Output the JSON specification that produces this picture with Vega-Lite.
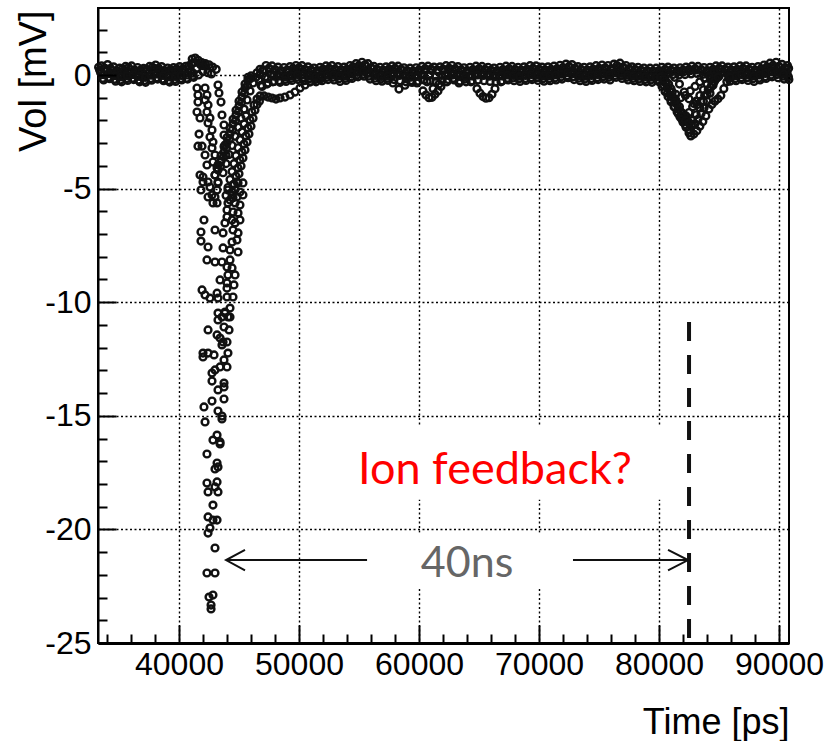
{
"$schema":"https://vega.github.io/schema/vega-lite/v6.json",
"width":691,"height":635,
"autosize":{"type":"none"},
"padding":{"left":98,"top":8,"right":38,"bottom":98},
"background":"white",
"config":{"view":{"stroke":"black","strokeWidth":2},"font":"Liberation Sans"},
"resolve":{"axis":{"x":"independent","y":"independent"}},
"datasets":{"pts":[
{"t":33300,"v":0.34},{"t":33800,"v":0.30},{"t":34300,"v":0.29},{"t":34800,"v":0.20},{"t":35300,"v":0.27},{"t":35800,"v":0.33},{"t":36300,"v":0.22},{"t":36800,"v":0.22},{"t":37300,"v":0.25},{"t":37800,"v":0.34},{"t":38300,"v":0.30},{"t":38800,"v":0.20},{"t":39300,"v":0.24},{"t":39800,"v":0.27},{"t":40300,"v":0.26},{"t":40800,"v":0.40},{"t":41300,"v":0.55},
{"t":33470,"v":0.10},{"t":33970,"v":0.16},{"t":34470,"v":0.05},{"t":34970,"v":0.03},{"t":35470,"v":0.05},{"t":35970,"v":0.12},{"t":36470,"v":0.02},{"t":36970,"v":0.02},{"t":37470,"v":0.08},{"t":37970,"v":0.10},{"t":38470,"v":0.10},{"t":38970,"v":0.00},{"t":39470,"v":0.05},{"t":39970,"v":0.04},{"t":40470,"v":0.10},{"t":40970,"v":0.15},{"t":41470,"v":0.30},
{"t":33630,"v":-0.15},{"t":34130,"v":-0.10},{"t":34630,"v":-0.19},{"t":35130,"v":-0.22},{"t":35630,"v":-0.16},{"t":36130,"v":-0.14},{"t":36630,"v":-0.22},{"t":37130,"v":-0.24},{"t":37630,"v":-0.16},{"t":38130,"v":-0.12},{"t":38630,"v":-0.18},{"t":39130,"v":-0.24},{"t":39630,"v":-0.20},{"t":40130,"v":-0.16},{"t":40630,"v":-0.14},{"t":41130,"v":-0.05},{"t":41630,"v":0.00},
{"t":33550,"v":0.40},{"t":34050,"v":0.46},{"t":34550,"v":0.36},{"t":35050,"v":0.30},{"t":35550,"v":0.38},{"t":36050,"v":0.40},{"t":36550,"v":0.33},{"t":37050,"v":0.29},{"t":37550,"v":0.38},{"t":38050,"v":0.44},{"t":38550,"v":0.37},{"t":39050,"v":0.31},{"t":39550,"v":0.33},{"t":40050,"v":0.37},{"t":40550,"v":0.38},{"t":41050,"v":0.50},
{"t":33720,"v":-0.22},{"t":34220,"v":-0.16},{"t":34720,"v":-0.27},{"t":35220,"v":-0.30},{"t":35720,"v":-0.24},{"t":36220,"v":-0.20},{"t":36720,"v":-0.30},{"t":37220,"v":-0.32},{"t":37720,"v":-0.23},{"t":38220,"v":-0.18},{"t":38720,"v":-0.25},{"t":39220,"v":-0.31},{"t":39720,"v":-0.28},{"t":40220,"v":-0.22},{"t":40720,"v":-0.18},{"t":41220,"v":-0.10},
{"t":33385,"v":0.22},{"t":33885,"v":0.27},{"t":34385,"v":0.20},{"t":34885,"v":0.13},{"t":35385,"v":0.17},{"t":35885,"v":0.23},{"t":36385,"v":0.16},{"t":36885,"v":0.11},{"t":37385,"v":0.20},{"t":37885,"v":0.25},{"t":38385,"v":0.19},{"t":38885,"v":0.13},{"t":39385,"v":0.15},{"t":39885,"v":0.17},{"t":40385,"v":0.21},{"t":40885,"v":0.30},
{"t":33680,"v":0.02},{"t":34180,"v":0.06},{"t":34680,"v":-0.03},{"t":35180,"v":-0.08},{"t":35680,"v":-0.03},{"t":36180,"v":0.02},{"t":36680,"v":-0.06},{"t":37180,"v":-0.10},{"t":37680,"v":-0.01},{"t":38180,"v":0.04},{"t":38680,"v":-0.02},{"t":39180,"v":-0.08},{"t":39680,"v":-0.06},{"t":40180,"v":-0.02},{"t":40680,"v":0.00},{"t":41180,"v":0.08},
{"t":41100,"v":0.70},{"t":41350,"v":0.75},{"t":41600,"v":0.65},{"t":41900,"v":0.55},{"t":42100,"v":0.40},{"t":41800,"v":0.45},{"t":42200,"v":0.50},{"t":42500,"v":0.45},{"t":42800,"v":0.35},{"t":43100,"v":0.25},{"t":42000,"v":0.15},{"t":42400,"v":0.10},{"t":42700,"v":0.05},
{"t":41500,"v":-0.57},{"t":41580,"v":-0.88},{"t":41580,"v":-1.19},{"t":41500,"v":-1.63},{"t":41750,"v":-1.89},{"t":41670,"v":-2.60},{"t":41580,"v":-3.13},{"t":41920,"v":-3.13},{"t":42170,"v":-3.52},{"t":42330,"v":-3.96},{"t":42000,"v":-4.49},{"t":42420,"v":-4.71},{"t":41750,"v":-4.40},
{"t":42170,"v":-0.57},{"t":42330,"v":-0.88},{"t":42170,"v":-1.10},{"t":42420,"v":-1.32},{"t":42330,"v":-1.63},{"t":42580,"v":-1.89},{"t":42420,"v":-2.11},{"t":42750,"v":-2.42},{"t":42580,"v":-2.73},{"t":42830,"v":-2.95},{"t":42750,"v":-3.21},{"t":43000,"v":-3.52},{"t":42830,"v":-3.83},{"t":43170,"v":-4.09},{"t":43000,"v":-4.40},{"t":43250,"v":-4.71},
{"t":43250,"v":-0.44},{"t":43330,"v":-0.79},{"t":43500,"v":-1.19},{"t":43580,"v":-1.76},{"t":43750,"v":-2.20},{"t":43750,"v":-2.64},{"t":43830,"v":-3.08},{"t":43920,"v":-3.52},
{"t":43250,"v":-4.18},{"t":43500,"v":-3.79},{"t":43750,"v":-3.39},{"t":44000,"v":-2.99},{"t":44250,"v":-2.60},{"t":44500,"v":-2.16},{"t":44750,"v":-1.76},{"t":45000,"v":-1.36},{"t":45250,"v":-0.97},{"t":45500,"v":-0.57},{"t":45750,"v":-0.22},{"t":46000,"v":-0.04},
{"t":43670,"v":-4.3},{"t":43920,"v":-3.9},{"t":44170,"v":-3.5},{"t":44420,"v":-3.1},{"t":44670,"v":-2.7},{"t":44920,"v":-2.3},{"t":45170,"v":-1.9},{"t":45420,"v":-1.5},{"t":45670,"v":-1.1},{"t":45920,"v":-0.7},{"t":46170,"v":-0.35},{"t":46420,"v":-0.1},{"t":46750,"v":0.02},
{"t":43460,"v":-4.0},{"t":43710,"v":-3.6},{"t":43960,"v":-3.2},{"t":44210,"v":-2.8},{"t":44460,"v":-2.4},{"t":44710,"v":-2.0},{"t":44960,"v":-1.6},{"t":45210,"v":-1.2},{"t":45460,"v":-0.8},{"t":45710,"v":-0.45},{"t":45960,"v":-0.15},
{"t":43000,"v":-4.4},{"t":43250,"v":-3.95},{"t":43500,"v":-3.55},{"t":43750,"v":-3.15},{"t":44000,"v":-2.75},{"t":44250,"v":-2.35},{"t":44500,"v":-1.95},{"t":44750,"v":-1.55},{"t":45000,"v":-1.15},{"t":45250,"v":-0.75},{"t":45500,"v":-0.4},{"t":45750,"v":-0.1},
{"t":44250,"v":-5.50},{"t":44420,"v":-5.15},{"t":44580,"v":-4.80},{"t":44750,"v":-4.45},{"t":44920,"v":-4.09},{"t":45080,"v":-3.74},{"t":45250,"v":-3.39},{"t":45420,"v":-3.04},{"t":45580,"v":-2.68},{"t":45750,"v":-2.33},{"t":45920,"v":-1.98},{"t":46080,"v":-1.63},{"t":46250,"v":-1.32},{"t":46500,"v":-1.06},{"t":46750,"v":-0.92},{"t":47080,"v":-0.92},{"t":47420,"v":-0.97},{"t":47750,"v":-1.01},{"t":48080,"v":-1.06},{"t":48420,"v":-1.01},{"t":48830,"v":-0.97},{"t":49250,"v":-0.88},{"t":49670,"v":-0.75},{"t":50080,"v":-0.57},{"t":50500,"v":-0.44},{"t":50920,"v":-0.31},{"t":51420,"v":-0.18},{"t":51920,"v":-0.09},
{"t":43920,"v":-5.3},{"t":44080,"v":-4.95},{"t":44250,"v":-4.6},{"t":44420,"v":-4.25},{"t":44580,"v":-3.9},{"t":44750,"v":-3.55},{"t":44920,"v":-3.2},{"t":45080,"v":-2.85},{"t":45250,"v":-2.5},{"t":45420,"v":-2.15},{"t":45580,"v":-1.8},
{"t":44500,"v":-5.4},{"t":44670,"v":-5.05},{"t":44830,"v":-4.7},{"t":45000,"v":-4.35},{"t":45170,"v":-4.0},{"t":45330,"v":-3.65},{"t":45500,"v":-3.3},{"t":45670,"v":-2.95},{"t":45830,"v":-2.6},{"t":46000,"v":-2.25},{"t":46170,"v":-1.9},{"t":46330,"v":-1.55},{"t":46500,"v":-1.3},{"t":46700,"v":-1.15},
{"t":42000,"v":-4.71},{"t":42580,"v":-4.93},{"t":41830,"v":-5.06},{"t":43250,"v":-4.75},{"t":43170,"v":-5.06},{"t":42750,"v":-5.28},{"t":43000,"v":-5.37},{"t":42420,"v":-5.37},{"t":42830,"v":-5.63},{"t":43170,"v":-5.63},{"t":44080,"v":-5.06},{"t":44500,"v":-4.84},{"t":44920,"v":-4.75},{"t":45330,"v":-4.75},{"t":45080,"v":-5.15},{"t":44420,"v":-5.28},{"t":44830,"v":-5.37},{"t":45330,"v":-5.28},{"t":44080,"v":-5.63},{"t":44670,"v":-5.63},{"t":45080,"v":-5.72},{"t":44000,"v":-5.94},{"t":44500,"v":-6.03},{"t":44920,"v":-6.07},{"t":42080,"v":-6.38},{"t":44000,"v":-6.25},{"t":44420,"v":-6.38},{"t":43830,"v":-6.51},{"t":44670,"v":-6.51},{"t":45080,"v":-6.38},{"t":43000,"v":-6.82},{"t":43670,"v":-6.95},{"t":44500,"v":-6.82},{"t":44920,"v":-6.95},{"t":41830,"v":-6.91},{"t":41830,"v":-7.31},{"t":44420,"v":-7.35},{"t":44830,"v":-7.26},{"t":42420,"v":-7.57},{"t":43670,"v":-7.61},{"t":44250,"v":-7.70},{"t":44920,"v":-7.79},{"t":42330,"v":-8.14},{"t":43000,"v":-8.23},{"t":43580,"v":-8.23},{"t":44250,"v":-8.14},{"t":44000,"v":-8.45},{"t":44420,"v":-8.49},{"t":44080,"v":-8.80},{"t":44670,"v":-8.80},{"t":43420,"v":-9.02},{"t":44000,"v":-9.15},{"t":44580,"v":-9.24},{"t":44000,"v":-9.38},{"t":41920,"v":-9.46},{"t":42170,"v":-9.68},{"t":42580,"v":-9.82},{"t":43170,"v":-9.60},{"t":43250,"v":-9.82},{"t":44000,"v":-9.77},{"t":44500,"v":-9.77},{"t":44250,"v":-10.26},{"t":43830,"v":-10.48},{"t":43580,"v":-10.65},{"t":44080,"v":-10.65},
{"t":43250,"v":-10.48},{"t":43830,"v":-10.43},{"t":44250,"v":-10.65},{"t":43250,"v":-10.78},{"t":42420,"v":-11.22},{"t":43750,"v":-11.09},{"t":44170,"v":-11.22},{"t":43170,"v":-11.44},{"t":43420,"v":-11.58},{"t":43670,"v":-11.75},{"t":44000,"v":-11.75},{"t":43580,"v":-11.88},{"t":42000,"v":-12.24},{"t":42420,"v":-12.24},{"t":42920,"v":-12.32},{"t":42000,"v":-12.41},{"t":44080,"v":-12.24},{"t":43750,"v":-12.54},{"t":43420,"v":-12.85},{"t":44000,"v":-12.85},{"t":43000,"v":-12.98},{"t":42750,"v":-13.12},{"t":42750,"v":-13.47},{"t":43750,"v":-13.56},{"t":43750,"v":-13.73},{"t":43250,"v":-13.86},{"t":42750,"v":-14.35},{"t":43750,"v":-14.26},{"t":42080,"v":-14.61},{"t":43250,"v":-14.79},{"t":43580,"v":-15.01},{"t":43580,"v":-15.14},{"t":42170,"v":-15.27},{"t":43170,"v":-15.85},{"t":42830,"v":-16.07},{"t":43420,"v":-16.15},{"t":43420,"v":-16.24},{"t":42330,"v":-16.68},
{"t":43170,"v":-17.08},{"t":43250,"v":-17.25},{"t":43000,"v":-17.34},{"t":42330,"v":-17.96},{"t":43170,"v":-17.91},{"t":43000,"v":-18.13},{"t":42420,"v":-18.35},{"t":43250,"v":-18.35},{"t":42830,"v":-18.93},{"t":42420,"v":-19.45},{"t":42830,"v":-19.59},{"t":43170,"v":-19.59},{"t":42580,"v":-19.94},{"t":42420,"v":-20.16},{"t":43000,"v":-20.82},{"t":42330,"v":-21.92},{"t":43000,"v":-21.92},{"t":42500,"v":-22.98},{"t":42830,"v":-22.89},{"t":42670,"v":-23.33},{"t":42670,"v":-23.50},
{"t":46500,"v":0.10},{"t":47000,"v":0.22},{"t":47500,"v":0.30},{"t":48000,"v":0.24},{"t":48500,"v":0.20},{"t":49000,"v":0.22},{"t":49500,"v":0.29},{"t":50000,"v":0.32},{"t":50500,"v":0.25},{"t":51000,"v":0.23},{"t":51500,"v":0.20},{"t":52000,"v":0.26},{"t":52500,"v":0.30},{"t":53000,"v":0.27},{"t":53500,"v":0.23},{"t":54000,"v":0.26},{"t":54500,"v":0.36},{"t":55000,"v":0.42},{"t":55500,"v":0.45},{"t":56000,"v":0.32},{"t":56500,"v":0.25},{"t":57000,"v":0.22},{"t":57500,"v":0.27},{"t":58000,"v":0.30},{"t":58500,"v":0.25},{"t":59000,"v":0.20},{"t":59500,"v":0.18},{"t":60000,"v":0.23},{"t":60500,"v":0.28},{"t":61000,"v":0.26},{"t":61500,"v":0.22},{"t":62000,"v":0.26},{"t":62500,"v":0.30},{"t":63000,"v":0.28},{"t":63500,"v":0.23},{"t":64000,"v":0.20},{"t":64500,"v":0.24},{"t":65000,"v":0.28},{"t":65500,"v":0.25},{"t":66000,"v":0.22},{"t":66500,"v":0.20},{"t":67000,"v":0.24},{"t":67500,"v":0.28},{"t":68000,"v":0.25},{"t":68500,"v":0.22},{"t":69000,"v":0.26},{"t":69500,"v":0.30},{"t":70000,"v":0.26},{"t":70500,"v":0.23},{"t":71000,"v":0.25},{"t":71500,"v":0.28},{"t":72000,"v":0.33},{"t":72500,"v":0.38},{"t":73000,"v":0.30},{"t":73500,"v":0.25},{"t":74000,"v":0.22},{"t":74500,"v":0.26},{"t":75000,"v":0.30},{"t":75500,"v":0.32},{"t":76000,"v":0.28},{"t":76500,"v":0.42},{"t":77000,"v":0.35},{"t":77500,"v":0.28},{"t":78000,"v":0.25},{"t":78500,"v":0.22},{"t":79000,"v":0.20},{"t":79500,"v":0.18},{"t":80000,"v":0.20},{"t":80500,"v":0.25},{"t":81000,"v":0.22},{"t":81500,"v":0.20},{"t":82000,"v":0.22},{"t":82500,"v":0.25},{"t":83000,"v":0.28},{"t":83500,"v":0.24},{"t":84000,"v":0.20},{"t":84500,"v":0.25},{"t":85000,"v":0.30},{"t":85500,"v":0.26},{"t":86000,"v":0.23},{"t":86500,"v":0.25},{"t":87000,"v":0.30},{"t":87500,"v":0.26},{"t":88000,"v":0.22},{"t":88500,"v":0.28},{"t":89000,"v":0.36},{"t":89500,"v":0.43},{"t":90000,"v":0.38},{"t":90500,"v":0.32},{"t":90800,"v":0.30},
{"t":46670,"v":-0.20},{"t":47170,"v":-0.10},{"t":47670,"v":0.05},{"t":48170,"v":0.03},{"t":48670,"v":-0.02},{"t":49170,"v":0.00},{"t":49670,"v":0.08},{"t":50170,"v":0.12},{"t":50670,"v":0.05},{"t":51170,"v":0.02},{"t":51670,"v":-0.02},{"t":52170,"v":0.05},{"t":52670,"v":0.10},{"t":53170,"v":0.07},{"t":53670,"v":0.02},{"t":54170,"v":0.07},{"t":54670,"v":0.18},{"t":55170,"v":0.22},{"t":55670,"v":0.22},{"t":56170,"v":0.10},{"t":56670,"v":0.04},{"t":57170,"v":0.02},{"t":57670,"v":0.07},{"t":58170,"v":0.08},{"t":58670,"v":0.03},{"t":59170,"v":-0.02},{"t":59670,"v":-0.03},{"t":60170,"v":0.02},{"t":60670,"v":-0.30},{"t":61170,"v":-0.60},{"t":61670,"v":-0.40},{"t":62170,"v":0.02},{"t":62670,"v":0.10},{"t":63170,"v":0.07},{"t":63670,"v":0.02},{"t":64170,"v":-0.02},{"t":64670,"v":0.04},{"t":65170,"v":0.08},{"t":65670,"v":0.04},{"t":66170,"v":0.01},{"t":66670,"v":-0.01},{"t":67170,"v":0.04},{"t":67670,"v":0.08},{"t":68170,"v":0.05},{"t":68670,"v":0.01},{"t":69170,"v":0.06},{"t":69670,"v":0.10},{"t":70170,"v":0.05},{"t":70670,"v":0.03},{"t":71170,"v":0.05},{"t":71670,"v":0.09},{"t":72170,"v":0.13},{"t":72670,"v":0.17},{"t":73170,"v":0.08},{"t":73670,"v":0.04},{"t":74170,"v":0.02},{"t":74670,"v":0.07},{"t":75170,"v":0.10},{"t":75670,"v":0.11},{"t":76170,"v":0.10},{"t":76670,"v":0.18},{"t":77170,"v":0.12},{"t":77670,"v":0.06},{"t":78170,"v":0.04},{"t":78670,"v":0.01},{"t":79170,"v":-0.01},{"t":79670,"v":-0.02},{"t":80170,"v":0.00},{"t":80670,"v":0.04},{"t":81170,"v":0.02},{"t":81670,"v":0.00},{"t":82170,"v":0.02},{"t":82670,"v":0.05},{"t":83170,"v":0.07},{"t":83670,"v":0.03},{"t":84170,"v":0.00},{"t":84670,"v":0.05},{"t":85170,"v":0.10},{"t":85670,"v":0.05},{"t":86170,"v":0.03},{"t":86670,"v":0.06},{"t":87170,"v":0.10},{"t":87670,"v":0.05},{"t":88170,"v":0.02},{"t":88670,"v":0.09},{"t":89170,"v":0.16},{"t":89670,"v":0.21},{"t":90170,"v":0.16},{"t":90670,"v":0.10},
{"t":46830,"v":-0.45},{"t":47330,"v":-0.40},{"t":47830,"v":-0.30},{"t":48330,"v":-0.25},{"t":48830,"v":-0.20},{"t":49330,"v":-0.15},{"t":49830,"v":-0.10},{"t":50330,"v":-0.12},{"t":50830,"v":-0.17},{"t":51330,"v":-0.20},{"t":51830,"v":-0.16},{"t":52330,"v":-0.10},{"t":52830,"v":-0.10},{"t":53330,"v":-0.16},{"t":53830,"v":-0.15},{"t":54330,"v":-0.08},{"t":54830,"v":0.00},{"t":55330,"v":0.03},{"t":55830,"v":-0.05},{"t":56330,"v":-0.14},{"t":56830,"v":-0.18},{"t":57330,"v":-0.15},{"t":57830,"v":-0.35},{"t":58330,"v":-0.62},{"t":58830,"v":-0.45},{"t":59330,"v":-0.25},{"t":59830,"v":-0.35},{"t":60330,"v":-0.70},{"t":60830,"v":-1.00},{"t":61330,"v":-0.85},{"t":61830,"v":-0.50},{"t":62330,"v":-0.30},{"t":62830,"v":-0.15},{"t":63330,"v":-0.35},{"t":63830,"v":-0.18},{"t":64330,"v":-0.30},{"t":64830,"v":-0.60},{"t":65330,"v":-0.95},{"t":65830,"v":-1.00},{"t":66330,"v":-0.60},{"t":66830,"v":-0.30},{"t":67330,"v":-0.15},{"t":67830,"v":-0.13},{"t":68330,"v":-0.17},{"t":68830,"v":-0.16},{"t":69330,"v":-0.12},{"t":69830,"v":-0.12},{"t":70330,"v":-0.16},{"t":70830,"v":-0.16},{"t":71330,"v":-0.13},{"t":71830,"v":-0.09},{"t":72330,"v":-0.04},{"t":72830,"v":-0.08},{"t":73330,"v":-0.14},{"t":73830,"v":-0.18},{"t":74330,"v":-0.16},{"t":74830,"v":-0.12},{"t":75330,"v":-0.08},{"t":75830,"v":-0.10},{"t":76330,"v":-0.02},{"t":76830,"v":-0.03},{"t":77330,"v":-0.10},{"t":77830,"v":-0.15},{"t":78330,"v":-0.18},{"t":78830,"v":-0.20},{"t":79330,"v":-0.22},{"t":79830,"v":-0.22},{"t":85830,"v":-0.15},{"t":86330,"v":-0.16},{"t":86830,"v":-0.12},{"t":87330,"v":-0.12},{"t":87830,"v":-0.16},{"t":88330,"v":-0.14},{"t":88830,"v":-0.08},{"t":89330,"v":0.00},{"t":89830,"v":0.02},{"t":90330,"v":-0.05},{"t":90780,"v":-0.08},
{"t":46750,"v":0.25},{"t":47250,"v":0.42},{"t":47750,"v":0.40},{"t":48250,"v":0.35},{"t":48750,"v":0.33},{"t":49250,"v":0.37},{"t":49750,"v":0.42},{"t":50250,"v":0.41},{"t":50750,"v":0.36},{"t":51250,"v":0.31},{"t":51750,"v":0.34},{"t":52250,"v":0.40},{"t":52750,"v":0.41},{"t":53250,"v":0.37},{"t":53750,"v":0.35},{"t":54250,"v":0.42},{"t":54750,"v":0.50},{"t":55250,"v":0.56},{"t":55750,"v":0.50},{"t":56250,"v":0.38},{"t":56750,"v":0.34},{"t":57250,"v":0.36},{"t":57750,"v":0.40},{"t":58250,"v":0.39},{"t":58750,"v":0.32},{"t":59250,"v":0.30},{"t":59750,"v":0.32},{"t":60250,"v":0.38},{"t":60750,"v":0.39},{"t":61250,"v":0.35},{"t":61750,"v":0.36},{"t":62250,"v":0.41},{"t":62750,"v":0.42},{"t":63250,"v":0.37},{"t":63750,"v":0.32},{"t":64250,"v":0.34},{"t":64750,"v":0.39},{"t":65250,"v":0.38},{"t":65750,"v":0.34},{"t":66250,"v":0.31},{"t":66750,"v":0.34},{"t":67250,"v":0.39},{"t":67750,"v":0.38},{"t":68250,"v":0.34},{"t":68750,"v":0.36},{"t":69250,"v":0.41},{"t":69750,"v":0.40},{"t":70250,"v":0.35},{"t":70750,"v":0.36},{"t":71250,"v":0.39},{"t":71750,"v":0.43},{"t":72250,"v":0.48},{"t":72750,"v":0.46},{"t":73250,"v":0.37},{"t":73750,"v":0.34},{"t":74250,"v":0.36},{"t":74750,"v":0.41},{"t":75250,"v":0.44},{"t":75750,"v":0.42},{"t":76250,"v":0.48},{"t":76750,"v":0.52},{"t":77250,"v":0.42},{"t":77750,"v":0.36},{"t":78250,"v":0.34},{"t":78750,"v":0.31},{"t":79250,"v":0.30},{"t":79750,"v":0.30},{"t":80250,"v":0.34},{"t":80750,"v":0.35},{"t":81250,"v":0.31},{"t":81750,"v":0.32},{"t":82250,"v":0.35},{"t":82750,"v":0.39},{"t":83250,"v":0.38},{"t":83750,"v":0.33},{"t":84250,"v":0.34},{"t":84750,"v":0.40},{"t":85250,"v":0.40},{"t":85750,"v":0.35},{"t":86250,"v":0.36},{"t":86750,"v":0.40},{"t":87250,"v":0.40},{"t":87750,"v":0.34},{"t":88250,"v":0.37},{"t":88750,"v":0.44},{"t":89250,"v":0.52},{"t":89750,"v":0.56},{"t":90250,"v":0.47},{"t":90700,"v":0.42},
{"t":46920,"v":-0.50},{"t":47420,"v":-0.35},{"t":47920,"v":-0.28},{"t":48420,"v":-0.32},{"t":48920,"v":-0.28},{"t":49420,"v":-0.24},{"t":49920,"v":-0.20},{"t":50420,"v":-0.25},{"t":50920,"v":-0.28},{"t":51420,"v":-0.30},{"t":51920,"v":-0.25},{"t":52420,"v":-0.20},{"t":52920,"v":-0.22},{"t":53420,"v":-0.28},{"t":53920,"v":-0.24},{"t":54420,"v":-0.15},{"t":54920,"v":-0.08},{"t":55420,"v":-0.05},{"t":55920,"v":-0.18},{"t":56420,"v":-0.25},{"t":56920,"v":-0.27},{"t":57420,"v":-0.24},{"t":57920,"v":-0.20},{"t":58420,"v":-0.25},{"t":58920,"v":-0.30},{"t":59420,"v":-0.33},{"t":59920,"v":-0.27},{"t":60420,"v":-0.22},{"t":60920,"v":-0.25},{"t":61420,"v":-0.28},{"t":61920,"v":-0.24},{"t":62420,"v":-0.20},{"t":62920,"v":-0.22},{"t":63420,"v":-0.27},{"t":63920,"v":-0.30},{"t":64420,"v":-0.26},{"t":64920,"v":-0.22},{"t":65420,"v":-0.25},{"t":65920,"v":-0.28},{"t":66420,"v":-0.30},{"t":66920,"v":-0.26},{"t":67420,"v":-0.22},{"t":67920,"v":-0.25},{"t":68420,"v":-0.28},{"t":68920,"v":-0.24},{"t":69420,"v":-0.20},{"t":69920,"v":-0.24},{"t":70420,"v":-0.27},{"t":70920,"v":-0.25},{"t":71420,"v":-0.22},{"t":71920,"v":-0.18},{"t":72420,"v":-0.12},{"t":72920,"v":-0.20},{"t":73420,"v":-0.25},{"t":73920,"v":-0.28},{"t":74420,"v":-0.24},{"t":74920,"v":-0.20},{"t":75420,"v":-0.18},{"t":75920,"v":-0.22},{"t":76420,"v":-0.10},{"t":76920,"v":-0.15},{"t":77420,"v":-0.22},{"t":77920,"v":-0.25},{"t":78420,"v":-0.28},{"t":78920,"v":-0.30},{"t":79420,"v":-0.32},{"t":85920,"v":-0.27},{"t":86420,"v":-0.25},{"t":86920,"v":-0.20},{"t":87420,"v":-0.24},{"t":87920,"v":-0.28},{"t":88420,"v":-0.22},{"t":88920,"v":-0.15},{"t":89420,"v":-0.08},{"t":89920,"v":-0.12},{"t":90420,"v":-0.18},{"t":90820,"v":-0.20},
{"t":47085,"v":0.22},{"t":47585,"v":0.25},{"t":48085,"v":0.18},{"t":48585,"v":0.15},{"t":49085,"v":0.17},{"t":49585,"v":0.22},{"t":50085,"v":0.25},{"t":50585,"v":0.20},{"t":51085,"v":0.16},{"t":51585,"v":0.13},{"t":52085,"v":0.20},{"t":52585,"v":0.24},{"t":53085,"v":0.21},{"t":53585,"v":0.18},{"t":54085,"v":0.20},{"t":54585,"v":0.30},{"t":55085,"v":0.36},{"t":55585,"v":0.38},{"t":56085,"v":0.27},{"t":56585,"v":0.19},{"t":57085,"v":0.16},{"t":57585,"v":0.21},{"t":58085,"v":0.23},{"t":58585,"v":0.19},{"t":59085,"v":0.14},{"t":59585,"v":0.12},{"t":60085,"v":0.18},{"t":60585,"v":0.22},{"t":61085,"v":0.19},{"t":61585,"v":0.16},{"t":62085,"v":0.21},{"t":62585,"v":0.24},{"t":63085,"v":0.21},{"t":63585,"v":0.17},{"t":64085,"v":0.14},{"t":64585,"v":0.19},{"t":65085,"v":0.22},{"t":65585,"v":0.19},{"t":66085,"v":0.15},{"t":66585,"v":0.14},{"t":67085,"v":0.19},{"t":67585,"v":0.22},{"t":68085,"v":0.18},{"t":68585,"v":0.16},{"t":69085,"v":0.21},{"t":69585,"v":0.24},{"t":70085,"v":0.19},{"t":70585,"v":0.17},{"t":71085,"v":0.20},{"t":71585,"v":0.22},{"t":72085,"v":0.27},{"t":72585,"v":0.32},{"t":73085,"v":0.23},{"t":73585,"v":0.19},{"t":74085,"v":0.16},{"t":74585,"v":0.21},{"t":75085,"v":0.24},{"t":75585,"v":0.26},{"t":76085,"v":0.23},{"t":76585,"v":0.34},{"t":77085,"v":0.28},{"t":77585,"v":0.22},{"t":78085,"v":0.19},{"t":78585,"v":0.16},{"t":79085,"v":0.14},{"t":79585,"v":0.12},{"t":80085,"v":0.14},{"t":80585,"v":0.19},{"t":81085,"v":0.16},{"t":81585,"v":0.14},{"t":82085,"v":0.16},{"t":82585,"v":0.19},{"t":83085,"v":0.22},{"t":83585,"v":0.18},{"t":84085,"v":0.14},{"t":84585,"v":0.19},{"t":85085,"v":0.24},{"t":85585,"v":0.20},{"t":86085,"v":0.17},{"t":86585,"v":0.19},{"t":87085,"v":0.24},{"t":87585,"v":0.20},{"t":88085,"v":0.16},{"t":88585,"v":0.22},{"t":89085,"v":0.29},{"t":89585,"v":0.36},{"t":90085,"v":0.32},{"t":90585,"v":0.26},
{"t":47380,"v":-0.15},{"t":47880,"v":-0.05},{"t":48380,"v":-0.04},{"t":48880,"v":-0.08},{"t":49380,"v":-0.04},{"t":49880,"v":0.02},{"t":50380,"v":0.00},{"t":50880,"v":-0.05},{"t":51380,"v":-0.08},{"t":51880,"v":-0.04},{"t":52380,"v":0.01},{"t":52880,"v":0.02},{"t":53380,"v":-0.03},{"t":53880,"v":-0.04},{"t":54380,"v":0.04},{"t":54880,"v":0.12},{"t":55380,"v":0.16},{"t":55880,"v":0.08},{"t":56380,"v":-0.02},{"t":56880,"v":-0.06},{"t":57380,"v":-0.04},{"t":57880,"v":0.01},{"t":58380,"v":-0.02},{"t":58880,"v":-0.07},{"t":59380,"v":-0.09},{"t":59880,"v":-0.05},{"t":60380,"v":0.00},{"t":60880,"v":-0.02},{"t":61380,"v":-0.05},{"t":61880,"v":-0.02},{"t":62380,"v":0.02},{"t":62880,"v":0.01},{"t":63380,"v":-0.04},{"t":63880,"v":-0.07},{"t":64380,"v":-0.04},{"t":64880,"v":0.00},{"t":65380,"v":-0.02},{"t":65880,"v":-0.05},{"t":66380,"v":-0.07},{"t":66880,"v":-0.04},{"t":67380,"v":0.00},{"t":67880,"v":-0.02},{"t":68380,"v":-0.05},{"t":68880,"v":-0.02},{"t":69380,"v":0.02},{"t":69880,"v":-0.01},{"t":70380,"v":-0.04},{"t":70880,"v":-0.03},{"t":71380,"v":0.00},{"t":71880,"v":0.04},{"t":72380,"v":0.10},{"t":72880,"v":0.06},{"t":73380,"v":-0.03},{"t":73880,"v":-0.05},{"t":74380,"v":-0.02},{"t":74880,"v":0.02},{"t":75380,"v":0.04},{"t":75880,"v":0.01},{"t":76380,"v":0.10},{"t":76880,"v":0.07},{"t":77380,"v":0.00},{"t":77880,"v":-0.03},{"t":78380,"v":-0.05},{"t":78880,"v":-0.07},{"t":79380,"v":-0.09},{"t":85880,"v":-0.02},{"t":86380,"v":-0.03},{"t":86880,"v":0.02},{"t":87380,"v":0.00},{"t":87880,"v":-0.04},{"t":88380,"v":0.00},{"t":88880,"v":0.07},{"t":89380,"v":0.14},{"t":89880,"v":0.12},{"t":90380,"v":0.05},
{"t":60580,"v":-0.88},{"t":61080,"v":-0.98},{"t":61580,"v":-0.70},{"t":65080,"v":-0.80},{"t":65580,"v":-1.02},{"t":66080,"v":-0.85},
{"t":79750,"v":-0.10},{"t":80000,"v":-0.30},{"t":80250,"v":-0.50},{"t":80500,"v":-0.72},{"t":80750,"v":-0.95},{"t":81000,"v":-1.18},{"t":81250,"v":-1.40},{"t":81500,"v":-1.62},{"t":81750,"v":-1.85},{"t":82000,"v":-2.08},{"t":82250,"v":-2.30},{"t":82500,"v":-2.55},{"t":82650,"v":-2.68},{"t":82900,"v":-2.60},{"t":83150,"v":-2.45},{"t":83400,"v":-2.25},{"t":83650,"v":-2.05},{"t":83900,"v":-1.80},{"t":84150,"v":-1.50},{"t":84400,"v":-1.30},{"t":84650,"v":-1.15},{"t":84900,"v":-1.05},{"t":85150,"v":-0.90},{"t":85400,"v":-0.60},{"t":85650,"v":-0.30},{"t":85900,"v":-0.10},
{"t":80300,"v":-0.10},{"t":80600,"v":-0.40},{"t":80900,"v":-0.70},{"t":81200,"v":-1.00},{"t":81500,"v":-1.30},{"t":81800,"v":-1.60},{"t":82100,"v":-1.85},{"t":82400,"v":-2.05},{"t":82700,"v":-2.20},{"t":83000,"v":-2.15},{"t":83250,"v":-1.95},{"t":83500,"v":-1.70},{"t":83750,"v":-1.45},{"t":84000,"v":-1.15},{"t":84250,"v":-0.80},{"t":84500,"v":-0.45},{"t":84750,"v":-0.15},
{"t":80500,"v":-0.10},{"t":80800,"v":-0.40},{"t":81100,"v":-0.75},{"t":81400,"v":-1.10},{"t":81700,"v":-1.40},{"t":82000,"v":-1.70},{"t":82250,"v":-1.80},{"t":82500,"v":-1.65},{"t":82800,"v":-1.40},{"t":83100,"v":-1.15},{"t":83400,"v":-0.90},{"t":83700,"v":-0.65},{"t":84000,"v":-0.40},{"t":84300,"v":-0.20},{"t":84600,"v":-0.05},
{"t":81300,"v":-0.10},{"t":81700,"v":-0.40},{"t":82100,"v":-0.75},{"t":82500,"v":-1.05},{"t":82900,"v":-1.25},{"t":83200,"v":-1.30},{"t":83500,"v":-1.15},{"t":83800,"v":-0.90},{"t":84100,"v":-0.65},{"t":84400,"v":-0.40},{"t":84700,"v":-0.20},{"t":85000,"v":-0.05},
{"t":80200,"v":-0.05},{"t":80600,"v":-0.30},{"t":81000,"v":-0.60},{"t":81400,"v":-0.85},{"t":81800,"v":-1.00},{"t":82200,"v":-0.90},{"t":82600,"v":-0.70},{"t":83000,"v":-0.50},{"t":83400,"v":-0.30},{"t":83800,"v":-0.15},{"t":84200,"v":-0.05},
{"t":80100,"v":-0.10},{"t":80400,"v":-0.45},{"t":80700,"v":-0.80},{"t":81000,"v":-1.10},{"t":81300,"v":-1.40},{"t":81600,"v":-1.70},{"t":81900,"v":-1.95},{"t":82200,"v":-2.20},{"t":82500,"v":-2.40},
{"t":80400,"v":-0.20},{"t":80700,"v":-0.55},{"t":81000,"v":-0.90},{"t":81300,"v":-1.20},{"t":81600,"v":-1.50},{"t":81900,"v":-1.80},{"t":82200,"v":-2.00},{"t":82500,"v":-2.10},{"t":82800,"v":-2.00},{"t":83100,"v":-1.75},{"t":83400,"v":-1.45},{"t":83700,"v":-1.15},{"t":84000,"v":-0.85},{"t":84300,"v":-0.55},{"t":84600,"v":-0.30},{"t":84900,"v":-0.10}
]},
"layer":[
{"data":{"name":"pts"},
 "mark":{"type":"point","shape":"circle","filled":false,"stroke":"#111","strokeWidth":2.4,"size":46,"opacity":1},
 "encoding":{
  "x":{"field":"t","type":"quantitative","scale":{"domain":[33250,90830],"nice":false,"zero":false},
   "axis":{"orient":"bottom","values":[40000,50000,60000,70000,80000,90000],"labelExpr":"''+datum.value","labelFont":"Liberation Sans","labelFontSize":32,"labelColor":"black","labelPadding":6,"labelFlush":false,"labelOverlap":false,"ticks":false,"domain":true,"domainColor":"black","domainWidth":3,"grid":true,"gridColor":"black","gridDash":[2,2.5],"gridWidth":1.4,"gridOpacity":1,"title":"Time [ps]","titleFont":"Liberation Sans","titleFontSize":36,"titleFontWeight":"normal","titleColor":"black","titleAlign":"right","titleAnchor":"end","titleBaseline":"alphabetic","titleX":691,"titleY":90}},
  "y":{"field":"v","type":"quantitative","scale":{"domain":[-25,2.95],"nice":false,"zero":false},
   "axis":{"orient":"left","values":[-25,-20,-15,-10,-5,0],"labelExpr":"''+datum.value","labelFont":"Liberation Sans","labelFontSize":32,"labelColor":"black","labelPadding":7,"labelFlush":false,"labelOverlap":false,"ticks":false,"domain":true,"domainColor":"black","domainWidth":2,"grid":true,"gridColor":"black","gridDash":[2,2.5],"gridWidth":1.4,"gridOpacity":1,"title":"Vol [mV]","titleFont":"Liberation Sans","titleFontSize":38,"titleFontWeight":"normal","titleColor":"black","titleAngle":-90,"titleAlign":"right","titleAnchor":"end","titleBaseline":"alphabetic","titleX":-53,"titleY":2}}
 }},
{"data":{"values":[{"t":55500,"t2":72800,"v":-20.15,"v2":-22.6},{"t":53500,"t2":81500,"v":-15.4,"v2":-18.7}]},
 "mark":{"type":"rect","fill":"white","stroke":null},
 "encoding":{
  "x":{"field":"t","type":"quantitative","scale":{"domain":[33250,90830],"nice":false,"zero":false},"axis":null},
  "x2":{"field":"t2"},
  "y":{"field":"v","type":"quantitative","scale":{"domain":[-25,2.95],"nice":false,"zero":false},"axis":null},
  "y2":{"field":"v2"}
 }},
{"data":{"values":[
  {"g":"a","o":1,"t":43920,"v":-21.35},{"g":"a","o":2,"t":55670,"v":-21.35},
  {"g":"b","o":1,"t":45500,"v":-20.9},{"g":"b","o":2,"t":43920,"v":-21.35},{"g":"b","o":3,"t":45500,"v":-21.8},
  {"g":"c","o":1,"t":72830,"v":-21.35},{"g":"c","o":2,"t":82420,"v":-21.35},
  {"g":"d","o":1,"t":80750,"v":-20.9},{"g":"d","o":2,"t":82420,"v":-21.35},{"g":"d","o":3,"t":80750,"v":-21.8}]},
 "mark":{"type":"line","color":"#111","strokeWidth":2},
 "encoding":{
  "x":{"field":"t","type":"quantitative","scale":{"domain":[33250,90830],"nice":false,"zero":false},
   "axis":{"orient":"bottom","offset":-9,"values":[34000,36000,38000,42000,44000,46000,48000,52000,54000,56000,58000,62000,64000,66000,68000,72000,74000,76000,78000,82000,84000,86000,88000],"ticks":true,"tickSize":9,"tickWidth":2,"tickColor":"black","labels":false,"domain":false,"grid":false,"title":null,"zindex":1}},
  "y":{"field":"v","type":"quantitative","scale":{"domain":[-25,2.95],"nice":false,"zero":false},
   "axis":{"orient":"left","offset":-9,"values":[-24,-23,-22,-21,-19,-18,-17,-16,-14,-13,-12,-11,-9,-8,-7,-6,-4,-3,-2,-1,1,2],"ticks":true,"tickSize":9,"tickWidth":2,"tickColor":"black","labels":false,"domain":false,"grid":false,"title":null,"zindex":1}},
  "detail":{"field":"g"},
  "order":{"field":"o"}
 }},
{"data":{"values":[{"t":82500,"v":-10.87,"v2":-25}]},
 "mark":{"type":"rule","color":"#111","strokeWidth":4,"strokeDash":[19,14]},
 "encoding":{
  "x":{"field":"t","type":"quantitative","scale":{"domain":[33250,90830],"nice":false,"zero":false},
   "axis":{"orient":"bottom","offset":-18,"values":[40000,50000,60000,70000,80000,90000],"ticks":true,"tickSize":18,"tickWidth":2,"tickColor":"black","labels":false,"domain":false,"grid":false,"title":null,"zindex":1}},
  "y":{"field":"v","type":"quantitative","scale":{"domain":[-25,2.95],"nice":false,"zero":false},
   "axis":{"orient":"left","offset":-18,"values":[-25,-20,-15,-10,-5,0],"ticks":true,"tickSize":18,"tickWidth":2,"tickColor":"black","labels":false,"domain":false,"grid":false,"title":null,"zindex":1}},
  "y2":{"field":"v2"}
 }},
{"data":{"values":[{"t":66330,"v":-18.0,"s":"Ion feedback?"}]},
 "mark":{"type":"text","font":"Lato","fontSize":45,"color":"red","align":"center","baseline":"alphabetic"},
 "encoding":{
  "x":{"field":"t","type":"quantitative","scale":{"domain":[33250,90830],"nice":false,"zero":false},"axis":null},
  "y":{"field":"v","type":"quantitative","scale":{"domain":[-25,2.95],"nice":false,"zero":false},"axis":null},
  "text":{"field":"s"}
 }},
{"data":{"values":[{"t":64000,"v":-22.1,"s":"40ns"}]},
 "mark":{"type":"text","font":"Lato","fontSize":43,"color":"#666666","align":"center","baseline":"alphabetic"},
 "encoding":{
  "x":{"field":"t","type":"quantitative","scale":{"domain":[33250,90830],"nice":false,"zero":false},"axis":null},
  "y":{"field":"v","type":"quantitative","scale":{"domain":[-25,2.95],"nice":false,"zero":false},"axis":null},
  "text":{"field":"s"}
 }}
]
}
